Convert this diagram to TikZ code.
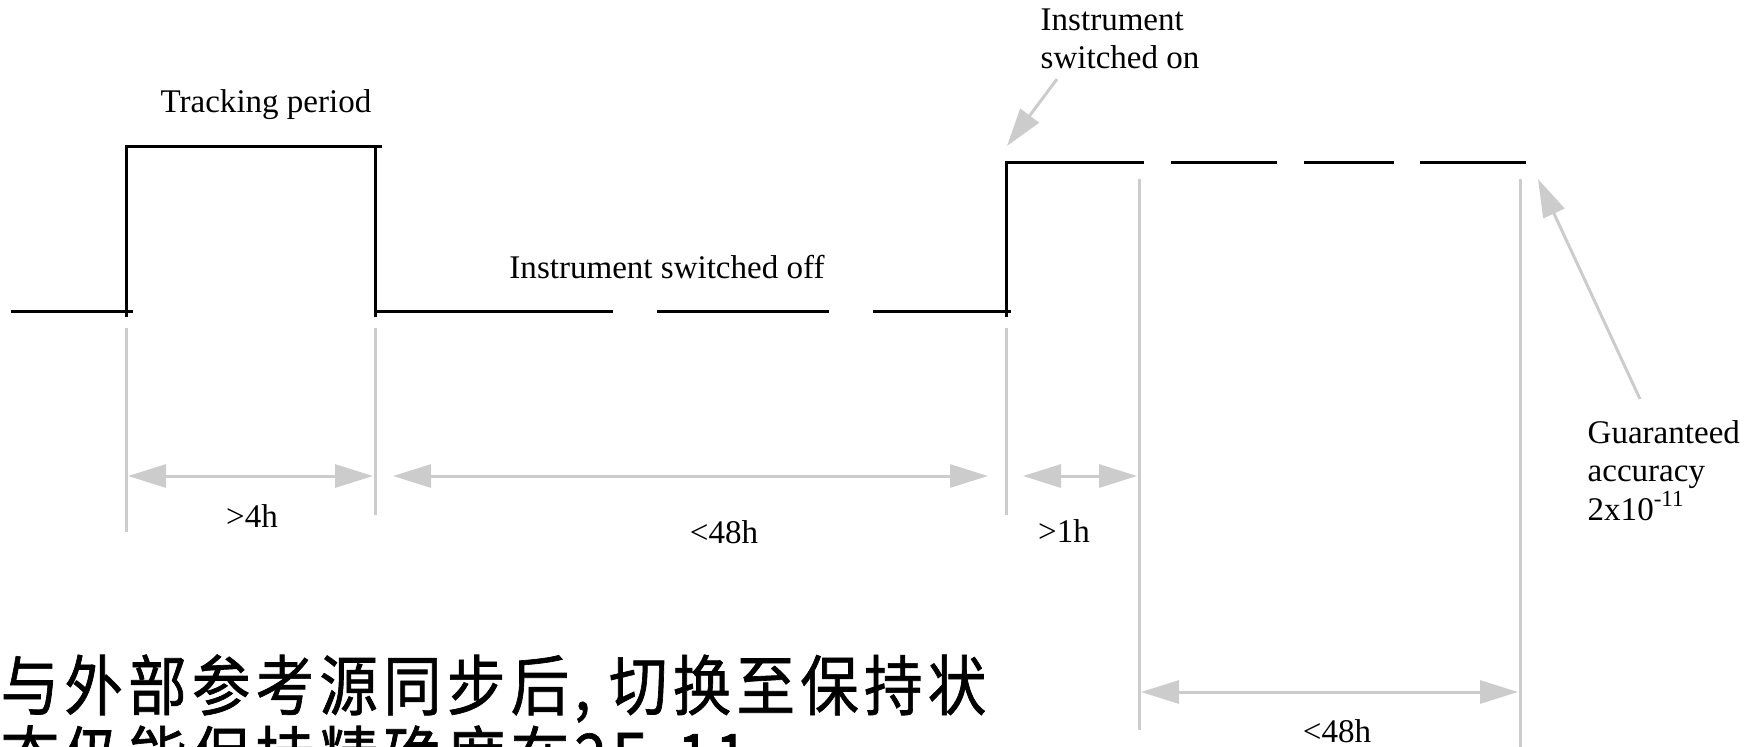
\documentclass[tikz,border=0pt]{standalone}
\usepackage{fontspec}
\setmainfont{Liberation Serif}
\newfontfamily\cjk[FakeStretch=0.89,LetterSpace=8,FakeBold=1]{Noto Sans CJK SC}
\usetikzlibrary{arrows.meta}
\definecolor{gr}{HTML}{CCCCCC}
\begin{document}
\begin{tikzpicture}[x=0.1mm,y=-0.1mm,
  sig/.style={line width=0.3mm, black},
  ext/.style={line width=0.3mm, draw=gr},
  dimline/.style={line width=0.3mm, draw=gr, {Triangle[length=3.8mm,width=2.3mm,fill=gr]}-{Triangle[length=3.8mm,width=2.3mm,fill=gr]}},
  ptr/.style={line width=0.3mm, draw=gr, -{Triangle[length=3.8mm,width=2.3mm,fill=gr]}},
  lbl/.style={font=\fontsize{9.4}{10.95}\selectfont, inner sep=0pt},
  cjklbl/.style={font=\cjk\fontsize{18.7}{22}\selectfont, inner sep=0pt, anchor=base west},
]
\useasboundingbox (0,0) rectangle (1755,746);
\clip (0,0) rectangle (1755,746);

% signal
\draw[sig] (11,311) -- (133,311);
\draw[sig] (126,317) -- (126,146) -- (382,146);
\draw[sig] (375.7,146) -- (375.7,317);
\draw[sig] (375.7,311) -- (613,311);
\draw[sig] (657,311) -- (829,311);
\draw[sig] (873,311) -- (1011,311);
\draw[sig] (1006,317) -- (1006,162) -- (1144,162);
\draw[sig] (1171,162) -- (1277,162);
\draw[sig] (1304,162) -- (1394,162);
\draw[sig] (1420,162) -- (1526,162);

% extension lines
\draw[ext] (126,328) -- (126,532);
\draw[ext] (375.7,328) -- (375.7,515);
\draw[ext] (1006,328) -- (1006,515);
\draw[ext] (1139,179) -- (1139,730);
\draw[ext] (1520,179) -- (1520,760);

% dimension arrows
\coordinate (a1l) at (128,476); \coordinate (a1r) at (373,476);
\coordinate (a2l) at (393,476); \coordinate (a2r) at (988,476);
\coordinate (a3l) at (1023,476); \coordinate (a3r) at (1137,476);
\coordinate (a4l) at (1141,692); \coordinate (a4r) at (1518,692);
\draw[dimline] (a1l) -- (a1r);
\draw[dimline] (a2l) -- (a2r);
\draw[dimline] (a3l) -- (a3r);
\draw[dimline] (a4l) -- (a4r);

% labels
\node[lbl, anchor=base] (track) at (266,112) {Tracking period};
\node[lbl, anchor=base] (off) at (667,278) {Instrument switched off};
\node[lbl, anchor=base west] (on1) at (1040,30) {Instrument};
\node[lbl, anchor=base west] (on2) at (1040,68) {switched on};
\node[lbl, anchor=base] (d1) at (252,527) {>4h};
\node[lbl, anchor=base] (d2) at (724,543) {<48h};
\node[lbl, anchor=base] (d3) at (1064,542) {>1h};
\node[lbl, anchor=base] (d4) at (1337,742) {<48h};
\node[lbl, anchor=base west] (g1) at (1587,443) {Guaranteed};
\node[lbl, anchor=base west] (g2) at (1587,481) {accuracy};
\node[lbl, anchor=base west] (g3) at (1587,520) {2x10\textsuperscript{-11}};

% pointers
\coordinate (onTail) at (1057,79);
\coordinate (onTip) at (1007,146);
\coordinate (gTail) at (1640,399);
\coordinate (gTip) at (1538,179);
\draw[ptr] (onTail) -- (onTip);
\draw[ptr] (gTail) -- (gTip);

% chinese caption
\node[cjklbl] (cn1) at (0,710) {与外部参考源同步后, 切换至保持状};
\node[cjklbl] (cn2) at (0,781) {态仍能保持精确度在2E-11};
\end{tikzpicture}
\end{document}
